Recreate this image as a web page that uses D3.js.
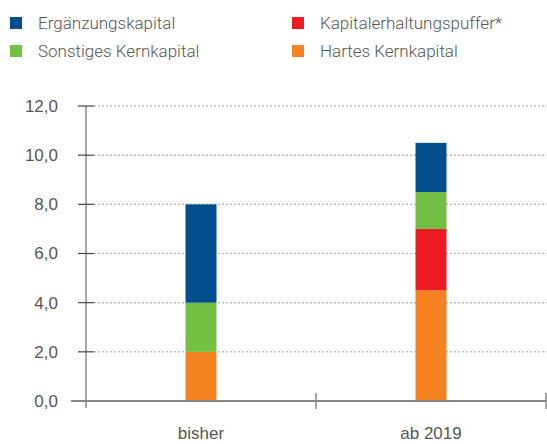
<!DOCTYPE html>
<html>
<head>
<meta charset="utf-8">
<script src="https://cdn.jsdelivr.net/npm/d3@7"></script>
<style>
  body { margin: 0; background: #fff; }
  svg { font-family: Roboto, "Liberation Sans", sans-serif; font-weight: 300; }
</style>
</head>
<body>
<svg id="chart" width="547" height="444"></svg>
<script>
const categories = ["bisher", "ab 2019"];
const series = ["Hartes Kernkapital", "Kapitalerhaltungspuffer*", "Sonstiges Kernkapital", "Ergänzungskapital"];
const hartes = [2.0, 4.5];
const puffer = [0.0, 2.5];
const sonstiges = [2.0, 1.5];
const ergaenzung = [4.0, 2.0];
const yTicks = [0, 2, 4, 6, 8, 10, 12];
const legendOrder = ["Ergänzungskapital", "Kapitalerhaltungspuffer*", "Sonstiges Kernkapital", "Hartes Kernkapital"];

const colors = {
    "Hartes Kernkapital": "#f58220",
    "Kapitalerhaltungspuffer*": "#ed1c24",
    "Sonstiges Kernkapital": "#72bf44",
    "Ergänzungskapital": "#004f8c"
};

const table = categories.map((c, i) => ({
    cat: c,
    "Hartes Kernkapital": hartes[i],
    "Kapitalerhaltungspuffer*": puffer[i],
    "Sonstiges Kernkapital": sonstiges[i],
    "Ergänzungskapital": ergaenzung[i]
}));

const svg = d3.select("#chart");
const margin = {top: 106, right: 1, bottom: 43, left: 86};
const width = 547 - margin.left - margin.right;
const height = 444 - margin.top - margin.bottom;
const g = svg.append("g").attr("transform", `translate(${margin.left},${margin.top})`);

const x = d3.scaleBand().domain(categories).range([0, width]).paddingInner(0).paddingOuter(0);
const y = d3.scaleLinear().domain([0, 12]).range([height, 0]);
const barW = 31;
const textColor = "#555";
const axisColor = "#888";

// gridlines
g.append("g").selectAll("line").data(yTicks.filter(d => d > 0)).join("line")
    .attr("x1", 8).attr("x2", width + 1)
    .attr("y1", d => y(d)).attr("y2", d => y(d))
    .attr("stroke", "#bdbdbd").attr("stroke-width", 1.5).attr("stroke-dasharray", "2,2");

// stacked bars
const stack = d3.stack().keys(series)(table);
g.append("g").selectAll("g").data(stack).join("g")
    .attr("fill", d => colors[d.key])
    .selectAll("rect").data(d => d).join("rect")
    .attr("x", d => x(d.data.cat) + x.bandwidth() / 2 - barW / 2)
    .attr("width", barW)
    .attr("y", d => y(d[1]))
    .attr("height", d => y(d[0]) - y(d[1]));

// y axis
const yAxis = g.append("g")
    .call(d3.axisLeft(y).tickValues(yTicks).tickSize(0).tickPadding(28)
        .tickFormat(d => d3.format(".1f")(d).replace(".", ",")));
yAxis.select(".domain").remove();
yAxis.selectAll("text").attr("fill", textColor).style("font-size", "17px").style("font-family", null);
g.append("line").attr("x1", 0).attr("x2", 0).attr("y1", 0).attr("y2", height + 7)
    .attr("stroke", axisColor).attr("stroke-width", 1.5);
g.append("g").selectAll("line").data(yTicks.filter(d => d > 0)).join("line")
    .attr("x1", -8).attr("x2", 8).attr("y1", d => y(d)).attr("y2", d => y(d))
    .attr("stroke", "#444").attr("stroke-width", 1.2);

// x axis
const xAxis = g.append("g").attr("transform", `translate(0,${height})`)
    .call(d3.axisBottom(x).tickSize(0).tickPadding(26));
xAxis.select(".domain").remove();
xAxis.selectAll("text").attr("fill", textColor).style("font-size", "17px").style("font-family", null);
g.append("line").attr("x1", -15).attr("x2", width + 1).attr("y1", height).attr("y2", height)
    .attr("stroke", axisColor).attr("stroke-width", 2);
g.append("g").selectAll("line").data(categories.slice(1).map(c => x(c)).concat([width])).join("line")
    .attr("x1", d => d).attr("x2", d => d).attr("y1", height - 8).attr("y2", height + 8)
    .attr("stroke", axisColor).attr("stroke-width", 1.5);

// legend
const legend = svg.append("g").selectAll("g").data(legendOrder).join("g")
    .attr("transform", (d, i) => `translate(${i % 2 === 0 ? 10 : 292},${i < 2 ? 17 : 45})`);
legend.append("rect").attr("width", 12).attr("height", 12).attr("fill", d => colors[d]);
legend.append("text").attr("x", 28).attr("y", 12).attr("fill", textColor)
    .style("font-size", "17px").text(d => d);
</script>
</body>
</html>
